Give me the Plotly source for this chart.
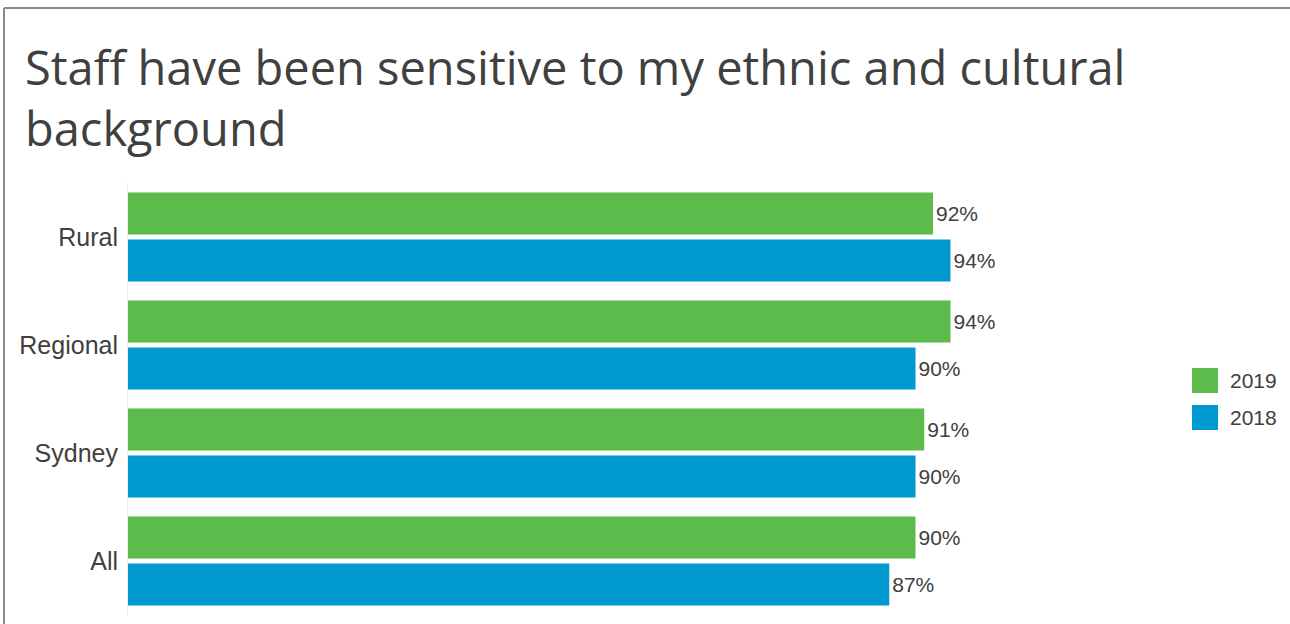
import plotly.graph_objects as go

# Survey results by location
locations = ["All", "Sydney", "Regional", "Rural"]
pct_2018 = [87, 90, 90, 94]
pct_2019 = [90, 91, 94, 92]
years = ["2019", "2018"]

GREEN = "#5BBB4B"
BLUE = "#0099CF"
TEXT = "#404040"
FONT = "Liberation Sans, Arial"

W, H = 1290, 624
ML, MR, MT, MB = 128, 287, 183, 9
PW = W - ML - MR
PH = H - MT - MB


def px_x(x):
    return (x - ML) / PW


def px_y(y):
    return (H - MB - y) / PH


fig = go.Figure()
fig.add_trace(go.Bar(
    y=locations, x=pct_2018, orientation="h", name="2018",
    marker=dict(color=BLUE, line=dict(width=0)),
    texttemplate="%{x}%", textposition="outside",
    textfont=dict(size=21, color=TEXT, family=FONT),
    cliponaxis=False, showlegend=False,
))
fig.add_trace(go.Bar(
    y=locations, x=pct_2019, orientation="h", name="2019",
    marker=dict(color=GREEN, line=dict(width=0)),
    texttemplate="%{x}%", textposition="outside",
    textfont=dict(size=21, color=TEXT, family=FONT),
    cliponaxis=False, showlegend=False,
))

shapes = [
    # frame
    dict(type="line", xref="paper", yref="paper",
         x0=px_x(4), x1=px_x(4), y0=px_y(8), y1=px_y(H + 5),
         line=dict(color="#8a8a8a", width=2)),
    dict(type="line", xref="paper", yref="paper",
         x0=px_x(4), x1=px_x(W + 5), y0=px_y(8), y1=px_y(8),
         line=dict(color="#8a8a8a", width=2)),
]
annotations = []
# legend swatches
for i, (name, col) in enumerate(zip(years, [GREEN, BLUE])):
    top = 368 + i * 37
    shapes.append(dict(type="rect", xref="paper", yref="paper",
                       x0=px_x(1192), x1=px_x(1218),
                       y0=px_y(top + 25), y1=px_y(top),
                       fillcolor=col, line=dict(width=0)))
    annotations.append(dict(xref="paper", yref="paper",
                            x=px_x(1228), y=px_y(top + 12.5),
                            xanchor="left", yanchor="middle",
                            text=name, showarrow=False,
                            font=dict(size=21, color=TEXT, family=FONT)))

fig.update_layout(
    width=W, height=H,
    margin=dict(l=ML, r=MR, t=MT, b=MB, pad=0),
    paper_bgcolor="white", plot_bgcolor="white",
    barmode="group", bargap=0.13, bargroupgap=0.106,
    showlegend=False,
    title=dict(
        text="Staff have been sensitive to my ethnic and cultural<br>background",
        xref="container", yref="container",
        x=25 / W, xanchor="left", y=1 - 85 / H, yanchor="top",
        font=dict(family="Open Sans", size=47, color=TEXT),
    ),
    xaxis=dict(range=[0, 100], visible=False, fixedrange=True),
    yaxis=dict(
        categoryorder="array", categoryarray=locations,
        showline=True, linecolor="#eeeeee", linewidth=1,
        showgrid=False, zeroline=False, ticks="",
        ticklabelstandoff=4,
        tickfont=dict(size=25, color=TEXT, family=FONT),
    ),
    shapes=shapes,
    annotations=annotations,
)

fig.write_html("out.html")
